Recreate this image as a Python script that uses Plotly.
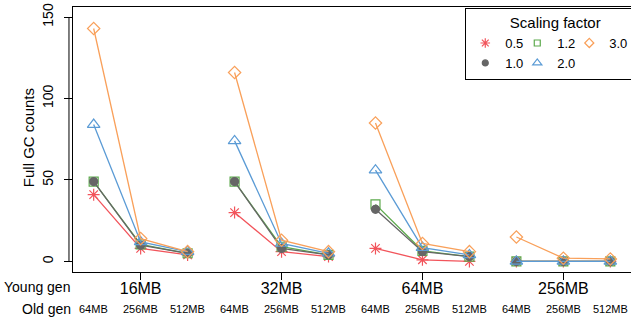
import plotly.graph_objects as go

# ---- data ----
young_gen = ["16MB", "32MB", "64MB", "256MB"]
old_gen = ["64MB", "256MB", "512MB"]
factors = ["0.5", "1.0", "1.2", "2.0", "3.0"]
gc_05 = [41, 8, 4, 30, 6, 3, 8, 1, 0, 0, 0, 0]
gc_10 = [49, 10, 5, 49, 8, 4, 32, 6, 3, 0, 0, 0]
gc_12 = [49, 10.5, 5, 49, 9, 4, 35, 6.5, 3, 0, 0, 0]
gc_20 = [84, 12, 6, 74, 11, 5, 56, 8.5, 4, 0, 0, 0]
gc_30 = [143, 14, 6, 116, 13, 6, 85, 11, 6, 15, 2, 1.5]

series = {"0.5": gc_05, "1.0": gc_10, "1.2": gc_12, "2.0": gc_20, "3.0": gc_30}
colors = {"0.5": "#F2545B", "1.0": "#666666", "1.2": "#5DAA4D", "2.0": "#5B9BD5", "3.0": "#F9A05A"}
symbols = {"0.5": "asterisk-open", "1.0": "circle", "1.2": "square-open",
           "2.0": "triangle-up-open", "3.0": "diamond-open"}
sizes = {"0.5": 10, "1.0": 8, "1.2": 9, "2.0": 11, "3.0": 9.5}
leg_sizes = {"0.5": 8, "1.0": 6, "1.2": 6, "2.0": 8, "3.0": 7}
leg_group = {"0.5": "a", "1.0": "a", "1.2": "b", "2.0": "b", "3.0": "c"}

FONT = "Liberation Sans, Arial, Helvetica, sans-serif"

n_old = len(old_gen)


def split(vals):
    xs, ys = [], []
    for g in range(len(young_gen)):
        for j in range(n_old):
            xs.append(g * n_old + j)
            ys.append(vals[g * n_old + j])
        xs.append(None)
        ys.append(None)
    return xs, ys


fig = go.Figure()
for f in ["0.5", "1.2", "1.0", "2.0", "3.0"]:
    xs, ys = split(series[f])
    fig.add_trace(go.Scatter(
        x=xs, y=ys, mode="lines+markers", showlegend=False, connectgaps=False,
        line=dict(color=colors[f], width=1.3),
        marker=dict(symbol=symbols[f], size=sizes[f], color=colors[f],
                    line=dict(color=colors[f], width=1.2)),
    ))

# legend-only entries
for f in ["0.5", "1.0", "1.2", "2.0", "3.0"]:
    fig.add_trace(go.Scatter(
        x=[None], y=[None], mode="markers", name=f, legendgroup=leg_group[f],
        legendwidth=30 if f == "3.0" else None,
        marker=dict(symbol=symbols[f], size=leg_sizes[f], color=colors[f],
                    line=dict(color=colors[f], width=1.2)),
    ))

n_pts = len(young_gen) * n_old
annotations = []
for i in range(n_pts):
    annotations.append(dict(x=i, xref="x", y=-0.1396, yref="paper", text=old_gen[i % n_old],
                            showarrow=False, font=dict(size=11, family=FONT, color="black"),
                            xanchor="center", yanchor="middle"))
annotations.append(dict(x=-0.127, xref="paper", y=-0.0566, yref="paper", text="Young gen",
                        showarrow=False, font=dict(size=14, family=FONT, color="black"),
                        xanchor="left", yanchor="middle"))
annotations.append(dict(x=-0.095, xref="paper", y=-0.1396, yref="paper", text="Old gen",
                        showarrow=False, font=dict(size=14, family=FONT, color="black"),
                        xanchor="left", yanchor="middle"))
annotations.append(dict(x=-0.0806, xref="paper", y=0.505, yref="paper", text="Full GC counts",
                        showarrow=False, textangle=-90, font=dict(size=15, family=FONT, color="black"),
                        xanchor="center", yanchor="middle"))

fig.update_layout(
    width=631, height=321,
    margin=dict(l=73, r=0, t=7, b=49, autoexpand=False),
    plot_bgcolor="white", paper_bgcolor="white",
    font=dict(family=FONT, color="black"),
    annotations=annotations,
    shapes=[dict(type="line", xref="paper", x0=-0.0072, x1=-0.0072, yref="y", y0=0, y1=150,
                 line=dict(color="black", width=1))],
    legend=dict(
        orientation="h", traceorder="grouped", entrywidth=7,
        x=0.703, xanchor="left", y=0.998, yanchor="top",
        bgcolor="white", bordercolor="black", borderwidth=1,
        font=dict(size=13, family=FONT, color="black"),
        title=dict(text="Scaling factor", side="top center", font=dict(size=15, family=FONT)),
        itemwidth=30,
    ),
    xaxis=dict(range=[-0.44, 11.44], tickvals=[1, 4, 7, 10], ticktext=young_gen,
               tickfont=dict(size=16, family=FONT, color="black"), ticklabelstandoff=-5,
               showgrid=False, zeroline=False, showline=True, mirror=True,
               linecolor="black", linewidth=1, ticks="outside", ticklen=7, tickcolor="black"),
    yaxis=dict(range=[-6.5, 156.2], tickvals=[0, 50, 100, 150], tickangle=-90,
               tickfont=dict(size=14, family=FONT, color="black"), ticklabelstandoff=5,
               showgrid=False, zeroline=False, showline=True, mirror=True,
               linecolor="black", linewidth=1, ticks="outside", ticklen=8, tickcolor="black"),
)

fig.write_html("out.html", config={"displayModeBar": False},
               post_script="document.body.style.margin='0';document.body.style.overflow='hidden';")
